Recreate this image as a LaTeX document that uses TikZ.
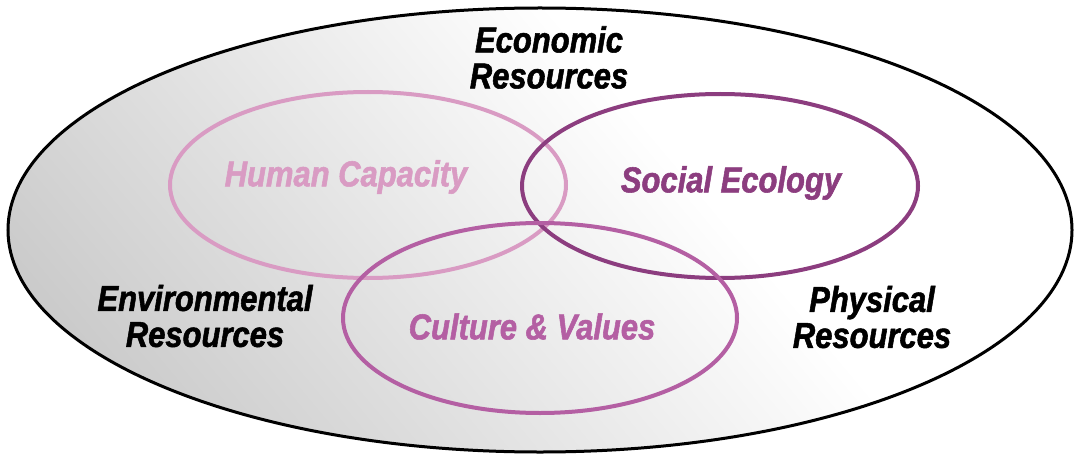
\documentclass[tikz,border=0pt]{standalone}
\usepackage{fontspec}
\usetikzlibrary{shapes.geometric}
\newfontfamily\lblfont{Liberation Sans}[FakeStretch=0.86, BoldItalicFeatures={FakeBold=1.5}]
\definecolor{grayedge}{RGB}{196,196,196}
\definecolor{hcpink}{RGB}{217,155,195}
\definecolor{sepurple}{RGB}{140,61,127}
\definecolor{cvmagenta}{RGB}{180,95,163}
\tikzset{
  lbl/.style={font={\lblfont\bfseries\itshape\fontsize{36}{36}\selectfont}, inner sep=0pt, align=center},
  ring/.style={line width=4pt},
}
\begin{document}
\begin{tikzpicture}[x=1pt,y=-1pt]
\useasboundingbox (0,0) rectangle (1075,457);
% background
\begin{scope}
  \clip (540,230) ellipse [x radius=532, y radius=222];
  \fill[white] (0,0) rectangle (1075,457);
  \begin{scope}[transform canvas={rotate around={40:(540,230)}}]
    \shade[left color=grayedge, right color=white] (40,-190) rectangle (690,650);
  \end{scope}
\end{scope}
\node[draw=black, line width=3pt, ellipse, minimum width=1064pt, minimum height=444pt, inner sep=0pt] (outer) at (540,230) {};
% rings
\draw[ring, hcpink] (368,185) ellipse [x radius=198, y radius=93];
\draw[ring, sepurple] (720,186) ellipse [x radius=198, y radius=92];
\draw[ring, cvmagenta] (540,318) ellipse [x radius=197, y radius=95];
% labels
\node[lbl, text=hcpink] (hc) at (346,177) {Human Capacity};
\node[lbl, text=sepurple] (se) at (731,183) {Social Ecology};
\node[lbl, text=cvmagenta] (cv) at (532,326.5) {Culture \& Values};
\node[lbl] (econ) at (549,57.5) {Economic\\Resources};
\node[lbl] (env) at (205,316) {Environmental\\Resources};
\node[lbl] (phys) at (872,317) {Physical\\Resources};
\end{tikzpicture}
\end{document}
